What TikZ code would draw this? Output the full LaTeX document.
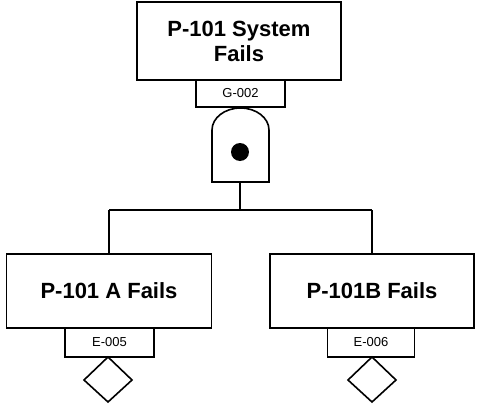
\documentclass[tikz,border=0pt]{standalone}
\usepackage{fontspec}
\setmainfont{Liberation Sans}
\begin{document}
\begin{tikzpicture}[x=1pt,y=-1pt,line width=1.6pt,
  ev/.style={draw,fill=white,minimum width=#1,font=\fontsize{22}{25}\bfseries\selectfont,align=center,inner sep=0pt},
  lab/.style={draw,fill=white,font=\fontsize{13}{14}\selectfont,inner sep=0pt}]
\useasboundingbox (0,0) rectangle (480,407);
% connectors first
\coordinate (j) at (240,210);
\coordinate (jl) at (109,210);
\coordinate (jr) at (372,210);
\draw (240,182) -- (j);
\draw (jl) -- (jr);
\draw (jl) -- (109,254);
\draw (jr) -- (372,254);
% top
\node[ev=0, minimum width=204pt, minimum height=78pt] (top) at (239,41) {P-101 System\\Fails};
\node[lab, minimum width=89pt, minimum height=27pt] (g) at (240.5,93.5) {G-002};
% gate
\draw (212,182) -- (212,130) arc[start angle=180,end angle=0,x radius=28.5pt,y radius=22pt] -- (269,182) -- cycle;
\fill (240,152) circle (9pt);
% left
\node[ev=0, minimum width=205pt, minimum height=74pt] (a) at (109,291) {P-101 A Fails};
\node[lab, minimum width=89pt, minimum height=29pt] (ea) at (109.5,342.5) {E-005};
\draw (108,357) -- (132,380) -- (108,402) -- (84,380) -- cycle;
% right
\node[ev=0, minimum width=204pt, minimum height=74pt] (b) at (372,291) {P-101B Fails};
\node[lab, minimum width=87pt, minimum height=29pt] (eb) at (371,342.5) {E-006};
\draw (372,357) -- (396,380) -- (372,402) -- (348,380) -- cycle;
\end{tikzpicture}
\end{document}
